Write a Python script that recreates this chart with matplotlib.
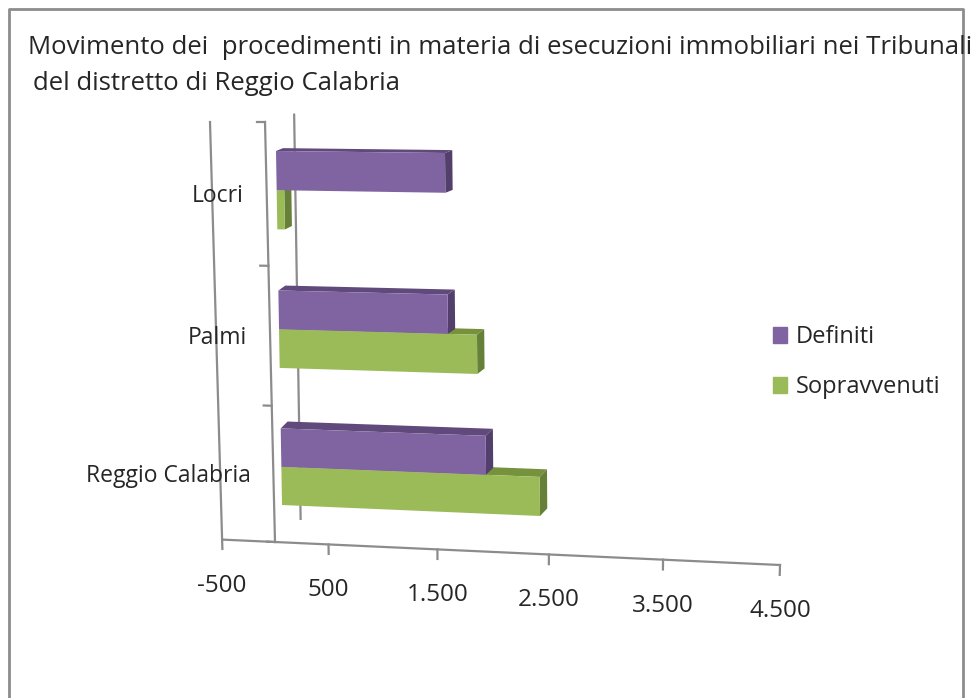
import matplotlib
matplotlib.use('Agg')
import matplotlib.pyplot as plt
import numpy as np
from matplotlib.patches import Patch
from matplotlib.transforms import Transform

categories = ['Reggio Calabria', 'Palmi', 'Locri']
definiti = [1870, 1540, 1530]
sopravvenuti = [2350, 1800, 70]
x_ticks = [-500, 500, 1500, 2500, 3500, 4500]
x_labels = ['-500', '500', '1.500', '2.500', '3.500', '4.500']
title_lines = ['Movimento dei  procedimenti in materia di esecuzioni immobiliari nei Tribunali',
               'del distretto di Reggio Calabria']

PURPLE = ('#8064a2', '#604a7b', '#533f6c')
GREEN = ('#9bbb59', '#76923c', '#66803a')
GREY = '#8c8c8c'
TEXT = '#262626'

plt.rcParams['font.family'] = ['Open Sans', 'DejaVu Sans']


class Perspective(Transform):
    """maps (value, category position) to picture pixels, like the tilted excel 3d view"""
    input_dims = 2
    output_dims = 2
    is_separable = False
    has_inverse = False

    def __init__(self, src, dst):
        super().__init__()
        rows, rhs = [], []
        for (u, v), (x, y) in zip(src, dst):
            rows.append([u, v, 1, 0, 0, 0, -u * x, -v * x])
            rows.append([0, 0, 0, u, v, 1, -u * y, -v * y])
            rhs += [x, y]
        self.h = np.append(np.linalg.solve(np.array(rows, float), np.array(rhs, float)), 1).reshape(3, 3)

    def transform_non_affine(self, values):
        values = np.asarray(values, float)
        pts = np.column_stack([values, np.ones(len(values))]) @ self.h.T
        return pts[:, :2] / pts[:, 2:]


fig = plt.figure(figsize=(9.73, 6.98), dpi=100)
ax = fig.add_axes([0, 0, 1, 1])
ax.axis('off')

persp = Perspective([(-500, 3), (0, 3), (0, 0), (4500, 0)],
                    [(210, 122), (265, 122), (275, 542), (780, 565)])
wall = persp + ax.transData
# the bars stand in their own plane, a bit in front of the axis walls
bar_plane = Perspective([(0, 2.78), (1530, 2.78), (0, 0.22), (2350, 0.22)],
                        [(276, 151), (445, 153), (282, 505), (540, 516)])
bars = bar_plane + ax.transData

# frame of the pasted chart, the bottom edge is cut off
ax.plot([8.5, 8.5, 963, 963], [700, 8.5, 8.5, 700], color=GREY, lw=2)

# walls and axes
line_kw = dict(color=GREY, lw=1.6, zorder=0.5, transform=wall)
ax.plot([-500, -500], [0, 3], **line_kw)
ax.plot([0, 0], [0, 3], **line_kw)
ax.plot([264, 245], [3.05, 0.18], **line_kw)
ax.plot([-500, 4500], [0, 0], **line_kw)
for y in range(4):
    ax.plot([-75, 0], [y, y], **line_kw)
for v, lab in zip(x_ticks, x_labels):
    ax.plot([v, v], [0, -0.07], **line_kw)
    px, py = persp.transform((v, 0))
    ax.text(px, py + 46, lab, ha='center', va='center', fontsize=17.5, color=TEXT)

BAR_H = 0.28
DEPTH_V = 65
pos = np.arange(len(categories)) + 0.5


def draw_series(values, y0, colors):
    for v, low in zip(values, y0):
        high = low + BAR_H
        dy = 0.021 + (2.78 - high) * 0.0155
        ax.fill([0, v, v + DEPTH_V, DEPTH_V], [high, high, high + dy, high + dy],
                color=colors[1], lw=0, transform=bars)
        ax.fill([v, v + DEPTH_V, v + DEPTH_V, v], [low, low + dy, high + dy, high],
                color=colors[2], lw=0, transform=bars)
    ax.barh(y0, values, height=BAR_H, align='edge', color=colors[0], lw=0, transform=bars)


draw_series(sopravvenuti, pos - BAR_H, GREEN)
draw_series(definiti, pos, PURPLE)

for name, y in zip(categories, pos):
    px, py = persp.transform((0, y))
    ax.text(px - 23, py + 2, name, ha='right', va='center', fontsize=16.5, color=TEXT)

ax.text(28, 47, title_lines[0], ha='left', va='center', fontsize=18.5, color=TEXT)
ax.text(33, 84, title_lines[1], ha='left', va='center', fontsize=18.5, color=TEXT)

handles = [Patch(color=PURPLE[0], label='Definiti'), Patch(color=GREEN[0], label='Sopravvenuti')]
ax.legend(handles=handles, loc='upper left', bbox_to_anchor=(0.794, 0.534), frameon=False,
          fontsize=17, handlelength=0.62, handleheight=0.62, handletextpad=0.35,
          labelspacing=1.1, labelcolor=TEXT, borderpad=0, borderaxespad=0)

ax.set_xlim(0, 973)
ax.set_ylim(698, 0)
fig.savefig('out.png', dpi=100)
